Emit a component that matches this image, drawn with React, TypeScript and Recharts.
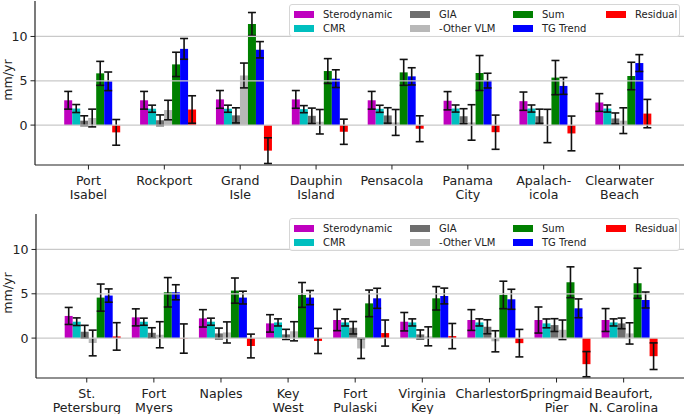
import { BarChart, Bar, XAxis, YAxis, ErrorBar, ReferenceLine, Legend } from "recharts";

// ─── Series definitions ───────────────────────────────────────────────────

const seriesNames = ["Sterodynamic", "CMR", "GIA", "-Other VLM", "Sum", "TG Trend", "Residual"];
const seriesColors = ["#bf00bf", "#00bfbf", "#6e6e6e", "#b8b8b8", "#008000", "#0000ff", "#ff0000"];
const yTicks = [0, 5, 10];

// ─── Gulf coast stations (top panel) ──────────────────────────────────────

const gulfStations = ["Port\nIsabel", "Rockport", "Grand\nIsle", "Dauphin\nIsland", "Pensacola", "Panama\nCity", "Apalach-\nicola", "Clearwater\nBeach"];
const gulfStero = [2.8, 2.8, 2.9, 2.9, 2.8, 2.75, 2.7, 2.55];
const gulfSteroErr = [1.0, 1.0, 1.0, 1.0, 1.0, 1.03, 1.03, 1.0];
const gulfCmr = [1.87, 1.85, 1.85, 1.8, 1.84, 1.87, 1.87, 1.87];
const gulfCmrErr = [0.45, 0.4, 0.4, 0.4, 0.4, 0.4, 0.4, 0.4];
const gulfGia = [0.5, 0.55, 1.1, 1.05, 1.09, 1.0, 1.0, 0.75];
const gulfGiaErr = [0.55, 0.6, 0.85, 0.87, 0.87, 0.85, 0.8, 0.62];
const gulfOtherVlm = [0.8, 1.7, 5.6, 0.38, 0.3, 0.3, -0.1, 0.5];
const gulfOtherVlmErr = [1.0, 1.1, 1.4, 1.38, 1.46, 2.0, 1.88, 1.45];
const gulfSum = [5.84, 6.85, 11.4, 6.1, 5.95, 5.88, 5.36, 5.54];
const gulfSumErr = [1.35, 1.37, 1.3, 1.4, 1.46, 1.97, 1.93, 1.55];
const gulfTg = [4.94, 8.6, 8.5, 5.24, 5.5, 5.02, 4.42, 7.0];
const gulfTgErr = [1.05, 1.17, 0.92, 1.0, 0.97, 0.83, 0.95, 0.95];
const gulfResidual = [-0.82, 1.76, -2.88, -0.75, -0.41, -0.8, -0.94, 1.3];
const gulfResidualErr = [1.45, 1.55, 1.45, 1.42, 1.46, 1.93, 1.96, 1.6];

// ─── Atlantic coast stations (bottom panel) ───────────────────────────────

const atlStations = ["St.\nPetersburg", "Fort\nMyers", "Naples", "Key\nWest", "Fort\nPulaski", "Virginia\nKey", "Charleston", "Springmaid\nPier", "Beaufort,\nN. Carolina"];
const atlStero = [2.5, 2.34, 2.23, 1.66, 2.04, 1.85, 2.04, 2.04, 2.04];
const atlSteroErr = [0.96, 0.96, 0.98, 0.98, 1.2, 1.04, 1.17, 1.47, 1.29];
const atlCmr = [1.85, 1.85, 1.85, 1.77, 1.77, 1.77, 1.77, 1.66, 1.77];
const atlCmrErr = [0.43, 0.4, 0.4, 0.4, 0.4, 0.4, 0.4, 0.5, 0.4];
const atlGia = [0.72, 0.6, 0.53, 0.42, 1.17, 0.42, 1.28, 1.47, 1.66];
const atlGiaErr = [0.72, 0.57, 0.6, 0.57, 0.7, 0.5, 0.79, 0.72, 0.6];
const atlOtherVlm = [-0.55, 0.38, 0.64, 0.77, -1.17, 0.2, -0.36, 0.94, 0.53];
const atlOtherVlmErr = [1.45, 1.47, 1.19, 1.08, 1.13, 1.07, 1.19, 1.1, 1.2];
const atlSum = [4.57, 5.17, 5.36, 4.87, 3.92, 4.49, 4.87, 6.3, 6.19];
const atlSumErr = [1.53, 1.66, 1.42, 1.4, 1.5, 1.32, 1.55, 1.74, 1.7];
const atlTg = [4.8, 5.17, 4.57, 4.57, 4.49, 4.75, 4.38, 3.36, 4.3];
const atlTgErr = [0.75, 0.85, 0.72, 0.8, 1.13, 0.89, 1.13, 1.06, 0.9];
const atlResidual = [0.19, -0.05, -0.89, -0.32, 0.57, 0.23, -0.57, -2.94, -2.04];
const atlResidualErr = [1.55, 1.65, 1.34, 1.42, 1.47, 1.42, 1.55, 1.42, 1.5];

function buildRows(names: string[], values: number[][], errors: number[][]) {
  return names.map((name, i) => {
    const row: Record<string, string | number> = { name };
    values.forEach((vals, k) => {
      row[`v${k}`] = vals[i];
      row[`e${k}`] = errors[k][i];
    });
    return row;
  });
}

const gulfRows = buildRows(
  gulfStations,
  [gulfStero, gulfCmr, gulfGia, gulfOtherVlm, gulfSum, gulfTg, gulfResidual],
  [gulfSteroErr, gulfCmrErr, gulfGiaErr, gulfOtherVlmErr, gulfSumErr, gulfTgErr, gulfResidualErr]
);
const atlRows = buildRows(
  atlStations,
  [atlStero, atlCmr, atlGia, atlOtherVlm, atlSum, atlTg, atlResidual],
  [atlSteroErr, atlCmrErr, atlGiaErr, atlOtherVlmErr, atlSumErr, atlTgErr, atlResidualErr]
);

const font = "DejaVu Sans, sans-serif";
const ink = "#222";
const grid = "#c9c9c9";

// ─── Pieces ───────────────────────────────────────────────────────────────

function StationTick({ x, y, payload, shift }: any) {
  const lines = String(payload.value).split("\n");
  return (
    <g transform={`translate(${x + shift},${y})`}>
      <line x1={0} x2={0} y1={0} y2={4.5} stroke={ink} strokeWidth={1} />
      <text textAnchor="middle" fontSize={12.6} fontFamily={font} fill={ink}>
        {lines.map((l, i) => (
          <tspan key={i} x={0} dy={i === 0 ? 19.5 : 14}>
            {l}
          </tspan>
        ))}
      </text>
    </g>
  );
}

const legendCols = [4, 120, 223, 316];

function LegendBox() {
  return (
    <div
      style={{
        position: "relative",
        width: 389,
        height: 31,
        border: "1px solid #d6d6d6",
        borderRadius: 3,
        background: "rgba(255,255,255,0.85)",
        fontFamily: font,
        fontSize: 10,
        color: ink,
      }}
    >
      {seriesNames.map((n, i) => {
        const col = Math.floor(i / 2);
        const row = i % 2;
        return (
          <div key={n} style={{ position: "absolute", left: legendCols[col], top: row * 14 + 2, height: 14, display: "flex", alignItems: "center", whiteSpace: "nowrap" }}>
            <span style={{ display: "inline-block", width: 20, height: 7, background: seriesColors[i], marginRight: 9 }} />
            <span>{n}</span>
          </div>
        );
      })}
    </div>
  );
}

function Panel({ rows, top, marginTop, yWidth, xHeight, pad, gap, shift, legendTop }: any) {
  return (
    <div style={{ position: "absolute", left: 0, top }}>
      <BarChart
        width={685}
        height={207}
        data={rows}
        margin={{ top: marginTop, right: 1, left: 0, bottom: 0 }}
        barGap={0}
        barCategoryGap={gap}
      >
        <XAxis
          dataKey="name"
          interval={0}
          height={xHeight}
          padding={{ left: pad, right: pad }}
          tickLine={false}
          tickSize={0}
          tickMargin={0}
          axisLine={{ stroke: ink, strokeWidth: 1.2 }}
          tick={(p: any) => <StationTick {...p} shift={shift} />}
        />
        <XAxis xAxisId="top" orientation="top" height={0} tick={false} tickLine={false} axisLine={{ stroke: ink, strokeWidth: 1.2 }} />
        <YAxis
          width={yWidth}
          domain={[-4.5, 14]}
          ticks={yTicks}
          allowDataOverflow
          tickSize={4.5}
          tickMargin={3}
          tick={{ fill: ink, fontSize: 12.6, fontFamily: font }}
          tickLine={{ stroke: ink }}
          axisLine={{ stroke: ink, strokeWidth: 1.2 }}
          label={{
            content: (lp: any) => {
              const vb = lp.viewBox || {};
              const cy = (vb.y ?? marginTop) + (vb.height ?? 164) / 2 - 3;
              return (
                <text transform={`translate(11.5,${cy}) rotate(-90)`} textAnchor="middle" fontSize={12.6} fontFamily={font} fill={ink}>
                  mm/yr
                </text>
              );
            },
          }}
        />
        <YAxis yAxisId="right" orientation="right" width={0} domain={[-4.5, 14]} tick={false} tickLine={false} axisLine={{ stroke: ink, strokeWidth: 1.2 }} />
        {seriesNames.map((n, k) => (
          <Bar key={n} dataKey={`v${k}`} name={n} fill={seriesColors[k]} isAnimationActive={false}>
            <ErrorBar dataKey={`e${k}`} width={4} stroke="#111" strokeWidth={1.6} direction="y" isAnimationActive={false} />
          </Bar>
        ))}
        {yTicks.map((t) => (
          <ReferenceLine key={t} y={t} stroke={grid} strokeWidth={1.3} />
        ))}
        <Legend
          layout="vertical"
          align="center"
          verticalAlign="middle"
          wrapperStyle={{ position: "absolute", left: 289, top: legendTop, width: "auto" }}
          content={() => <LegendBox />}
        />
      </BarChart>
    </div>
  );
}

export default function App() {
  return (
    <div style={{ position: "absolute", left: 0, top: 0, width: 685, height: 414, background: "#fff" }}>
      <Panel rows={gulfRows} top={0} marginTop={1} yWidth={35} xHeight={42} pad={21} gap={8.2} shift={-5.5} legendTop={4} />
      <Panel rows={atlRows} top={207} marginTop={7} yWidth={36} xHeight={36} pad={22} gap={6.7} shift={-4.8} legendTop={11} />
    </div>
  );
}
